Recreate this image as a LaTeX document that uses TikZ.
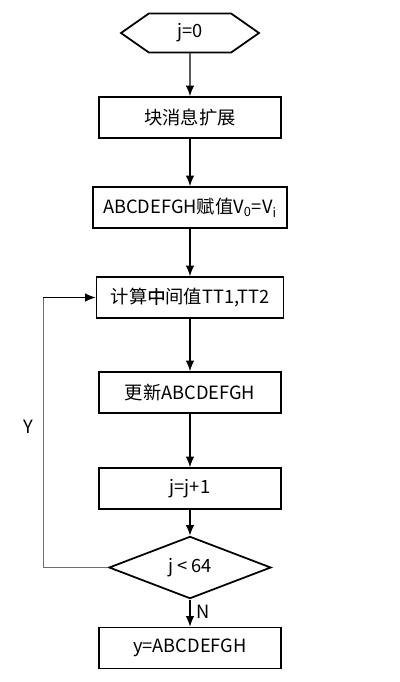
\documentclass[tikz,border=0pt]{standalone}
\usepackage{fontspec}
\setmainfont{Noto Sans CJK SC}
\newfontfamily\heavyfont[FakeBold=0.6]{Noto Sans CJK SC}
\usepackage{tikz}
\usetikzlibrary{shapes.geometric, shapes.symbols, arrows.meta, positioning, calc}
\definecolor{loopgray}{RGB}{110, 110, 110}
\tikzstyle{terminal} = [signal, signal to=west and east, signal pointer angle=70, minimum width=2.76cm, minimum height=0.78cm, inner sep=0pt, text centered, draw=black, line width=1pt, fill=white]
\tikzstyle{process} = [rectangle, minimum width=3.64cm, minimum height=0.82cm, text centered, draw=black, line width=1pt, fill=white]
\tikzstyle{decision} = [diamond, minimum width=3.24cm, minimum height=0.8cm, inner sep=0pt, text centered, draw=black, line width=1pt, fill=white]
\tikzstyle{arrow} = [line width=0.6pt, -{Latex[length=2.1mm, width=1.7mm]}]

\begin{document}
\begin{tikzpicture}[node distance=1.8cm, font=\fontsize{10.4}{12}\selectfont]
\useasboundingbox (0,0) rectangle (8,-13.64);

% Main flow
\node (init) [terminal] at (3.8,-0.66) {j=0};
\node (expand) [process, below of=init, yshift=0.11cm] {块消息扩展};
\node (assign) [process, below of=expand, minimum width=3.88cm] {ABCDEFGH赋值V\textsubscript{0}=V\textsubscript{i}};
\node (compute) [process, below of=assign, minimum width=3.74cm] {计算{\heavyfont 中}间值TT1,TT2};
\node (update) [process, below of=compute, yshift=-0.1cm] {更新ABCDEFGH};
\node (incr) [process, below of=update, yshift=-0.12cm] {j=j+1};
\node (cond) [decision, below of=incr, yshift=0.22cm] {j < 64};
\node (output) [process, below of=cond, yshift=0.19cm] {y=ABCDEFGH};

% Connections
\draw [arrow] (init) -- (expand);
\draw [arrow] (expand) -- (assign);
\draw [arrow] (assign) -- (compute);
\draw [arrow] (compute) -- (update);
\draw [arrow] (update) -- (incr);
\draw [arrow] (incr) -- (cond);
\draw [arrow] (cond) -- node [right, pos=0.45] {N} (output);

% Loop back
\coordinate (loopbottom) at ($(cond.west)+(-1.3,0)$);
\coordinate (looptop) at (loopbottom |- compute.west);
\draw [line width=0.6pt, draw=loopgray] (cond.west) -- (loopbottom) -- node [left=2pt, pos=0.52, text=black] {Y} (looptop);
\draw [arrow] (looptop) -- (compute.west);

\end{tikzpicture}
\end{document}
